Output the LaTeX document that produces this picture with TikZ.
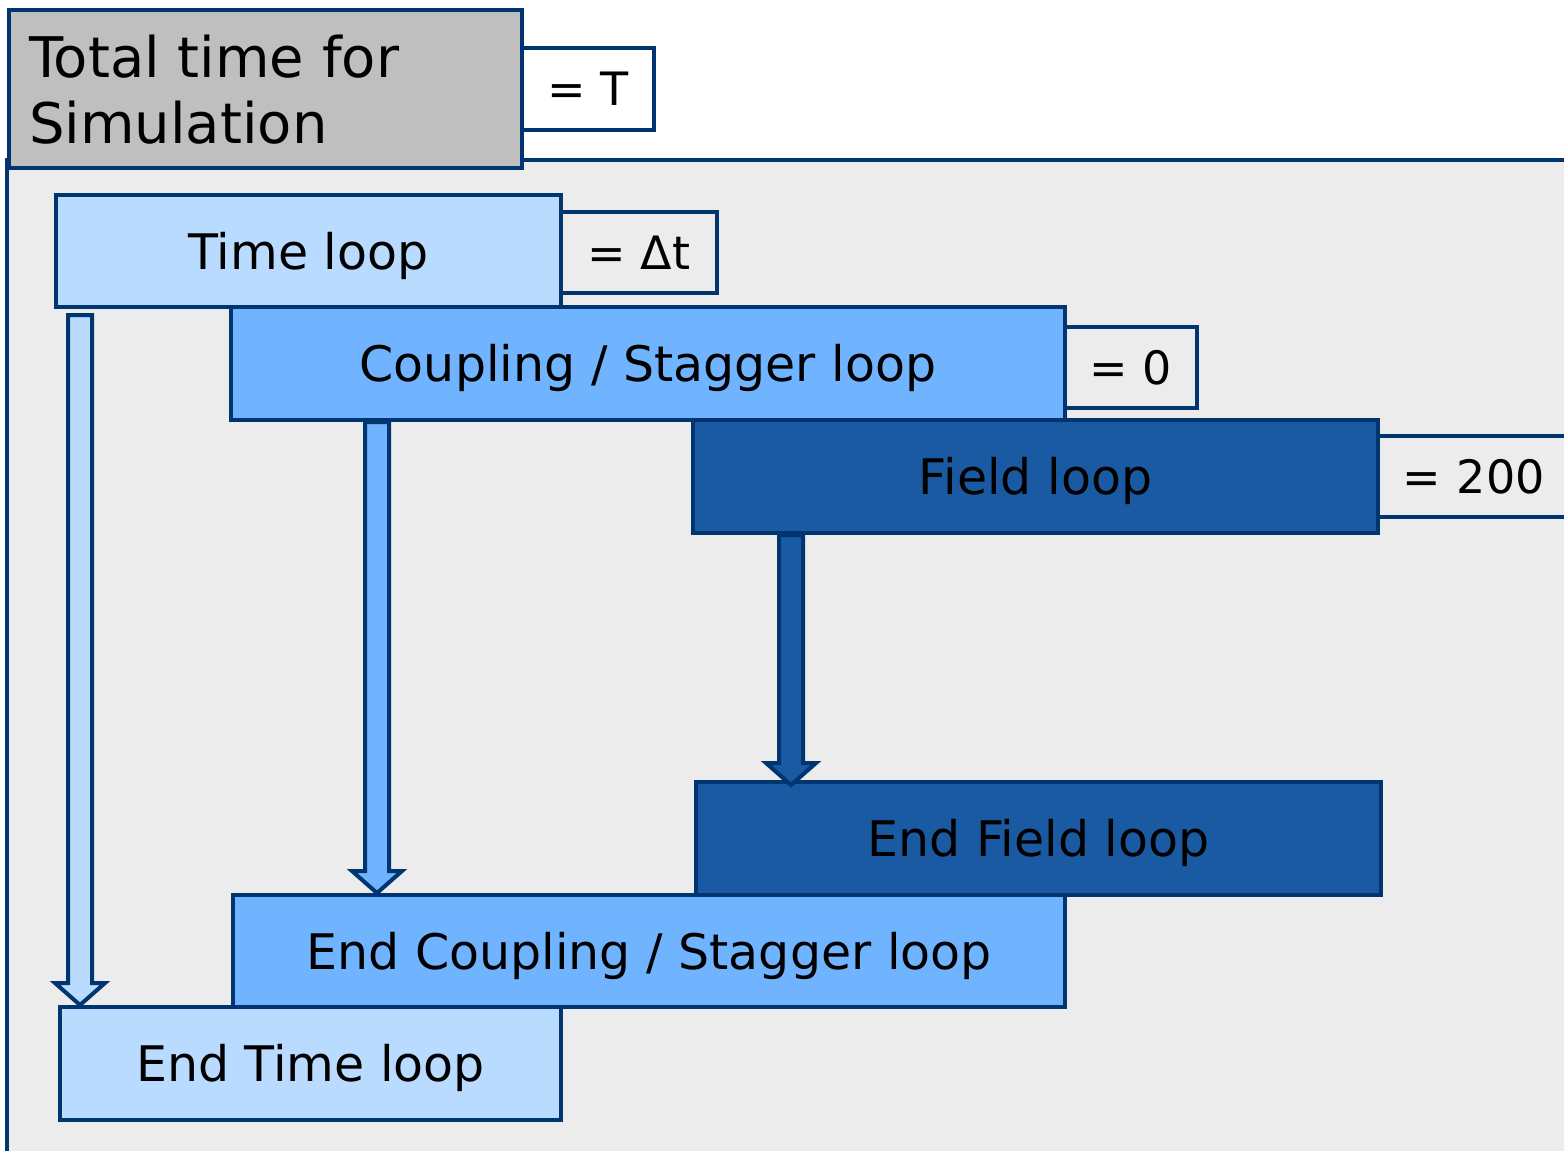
\documentclass[tikz,border=0pt]{standalone}
\usepackage{fontspec}
\setmainfont{DejaVu Sans}
\usetikzlibrary{calc}
\definecolor{bord}{HTML}{003570}
\definecolor{bgg}{HTML}{ECECEC}
\definecolor{greyf}{HTML}{BFBFBF}
\definecolor{lblue}{HTML}{B8DBFF}
\definecolor{mblue}{HTML}{70B3FF}
\definecolor{dblue}{HTML}{1A5AA3}
\tikzset{
  box/.style={draw=bord, line width=4pt, anchor=north west, inner sep=0pt,
    font=\fontsize{49}{58}\selectfont, text=black, text height=36pt, text depth=0pt},
  valbox/.style={draw=bord, line width=3.5pt, anchor=north west, inner sep=0pt,
    font=\fontsize{46}{55}\selectfont, text=black, text height=33.5pt, text depth=0pt},
  blockarr/.style={draw=bord, line width=4pt, line join=miter}
}
\newcommand{\blockarrow}[3]{%
  \draw[blockarr, fill=#3] let \p1=(#1), \p2=(#2) in
    (\x1-12pt,\y1) -- (\x1+12pt,\y1) -- (\x1+12pt,\y2+22pt) -- (\x1+25pt,\y2+22pt)
    -- (\x1,\y2) -- (\x1-25pt,\y2+22pt) -- (\x1-12pt,\y2+22pt) -- cycle;}
\begin{document}
\begin{tikzpicture}[x=1pt,y=-1pt]
\useasboundingbox (0,0) rectangle (1564,1151);
% background panel
\fill[bgg] (7,160) rectangle (1580,1170);
\draw[bord, line width=4pt] (1580,160) -- (7,160) -- (7,1170);
% header
\node[box, fill=greyf, minimum width=513pt, minimum height=158pt] (total) at (7,8) {};
\node[anchor=base west, inner sep=0pt, font=\fontsize{56}{66}\selectfont, align=left] (totaltxt) at (29,77) {Total time for};
\node[anchor=base west, inner sep=0pt, font=\fontsize{56}{66}\selectfont, align=left] (simtxt) at (29,143) {Simulation};
\node[valbox, fill=white, minimum width=132pt, minimum height=82pt] (vT) at (520,46) {= T};
% loops
\node[valbox, minimum width=156pt, minimum height=81pt] (vdt) at (559,210) {= Δt};
\node[box, fill=lblue, minimum width=505pt, minimum height=112pt] (time) at (54,193) {Time loop};
\node[valbox, minimum width=132pt, minimum height=81pt] (v0) at (1063,325) {= 0};
\node[box, fill=mblue, minimum width=834pt, minimum height=113pt] (coup) at (229,305) {Coupling / Stagger loop};
\node[valbox, minimum width=230pt, minimum height=81pt, text width=190pt, align=center] (v200) at (1376,434) {= 200\hspace*{38pt}};
\node[box, fill=dblue, minimum width=685pt, minimum height=113pt] (field) at (691,418) {Field loop};
\node[box, fill=dblue, minimum width=685pt, minimum height=113pt] (efield) at (694,780) {End Field loop};
\node[box, fill=mblue, minimum width=832pt, minimum height=112pt] (ecoup) at (231,893) {End Coupling / Stagger loop};
\node[box, fill=lblue, minimum width=501pt, minimum height=113pt] (etime) at (58,1005) {End Time loop};
% arrows
\coordinate (a1s) at ($(time.south west)+(26,6)$);
\coordinate (a1e) at (a1s |- etime.north);
\coordinate (a2s) at ($(coup.south west)+(148,0)$);
\coordinate (a2e) at (a2s |- ecoup.north);
\coordinate (a3s) at ($(field.south west)+(100,0)$);
\coordinate (a3e) at ($(a3s |- efield.north)+(0,5)$);
\blockarrow{a1s}{a1e}{lblue}
\blockarrow{a2s}{a2e}{mblue}
\blockarrow{a3s}{a3e}{dblue}
\end{tikzpicture}
\end{document}
